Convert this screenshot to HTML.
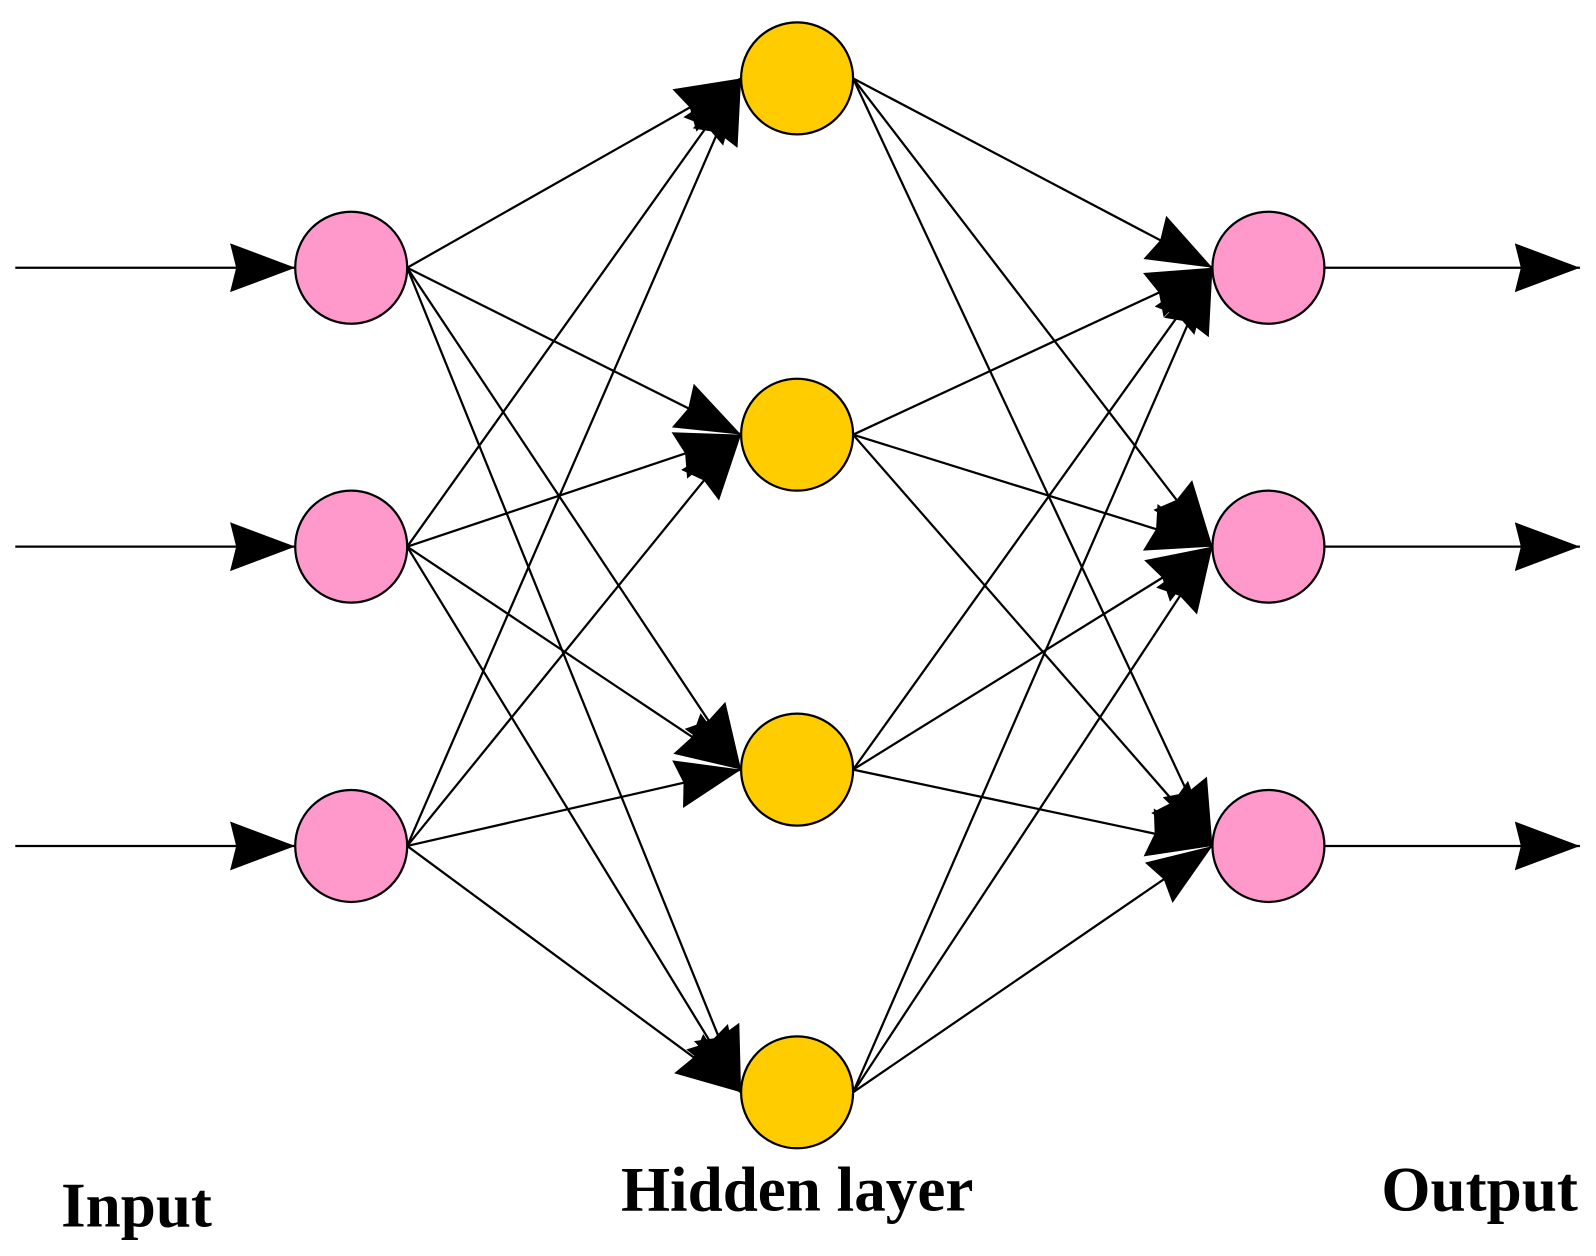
<!DOCTYPE html>
<html><head><meta charset="utf-8"><style>
html,body{margin:0;padding:0;background:#fff;}
svg{display:block}
</style></head><body>
<svg width="1596" height="1256" viewBox="0 0 1596 1256" xmlns="http://www.w3.org/2000/svg">
<defs>
<marker id="a" markerUnits="userSpaceOnUse" markerWidth="70" markerHeight="54" refX="64" refY="24" orient="auto">
<polygon points="0,0 64,24 0,48 6,24" fill="#000"/>
</marker>
</defs>
<g transform="scale(1.018)">
<g stroke="#000" stroke-width="2.2" fill="none" marker-end="url(#a)">
<line x1="15" y1="263" x2="290" y2="263"/>
<line x1="15" y1="537" x2="290" y2="537"/>
<line x1="15" y1="831" x2="290" y2="831"/>
<line x1="1301" y1="263" x2="1552" y2="263"/>
<line x1="1301" y1="537" x2="1552" y2="537"/>
<line x1="1301" y1="831" x2="1552" y2="831"/>
<line x1="400" y1="263" x2="728" y2="77"/>
<line x1="400" y1="263" x2="728" y2="427"/>
<line x1="400" y1="263" x2="728" y2="756"/>
<line x1="400" y1="263" x2="728" y2="1073"/>
<line x1="400" y1="537" x2="728" y2="77"/>
<line x1="400" y1="537" x2="728" y2="427"/>
<line x1="400" y1="537" x2="728" y2="756"/>
<line x1="400" y1="537" x2="728" y2="1073"/>
<line x1="400" y1="831" x2="728" y2="77"/>
<line x1="400" y1="831" x2="728" y2="427"/>
<line x1="400" y1="831" x2="728" y2="756"/>
<line x1="400" y1="831" x2="728" y2="1073"/>
<line x1="838" y1="77" x2="1191" y2="263"/>
<line x1="838" y1="77" x2="1191" y2="537"/>
<line x1="838" y1="77" x2="1191" y2="831"/>
<line x1="838" y1="427" x2="1191" y2="263"/>
<line x1="838" y1="427" x2="1191" y2="537"/>
<line x1="838" y1="427" x2="1191" y2="831"/>
<line x1="838" y1="756" x2="1191" y2="263"/>
<line x1="838" y1="756" x2="1191" y2="537"/>
<line x1="838" y1="756" x2="1191" y2="831"/>
<line x1="838" y1="1073" x2="1191" y2="263"/>
<line x1="838" y1="1073" x2="1191" y2="537"/>
<line x1="838" y1="1073" x2="1191" y2="831"/>
</g>
<g stroke="#000" stroke-width="2.2">
<circle cx="345" cy="263" r="55" fill="#FF99CC"/>
<circle cx="345" cy="537" r="55" fill="#FF99CC"/>
<circle cx="345" cy="831" r="55" fill="#FF99CC"/>
<circle cx="783" cy="77" r="55" fill="#FFCC00"/>
<circle cx="783" cy="427" r="55" fill="#FFCC00"/>
<circle cx="783" cy="756" r="55" fill="#FFCC00"/>
<circle cx="783" cy="1073" r="55" fill="#FFCC00"/>
<circle cx="1246" cy="263" r="55" fill="#FF99CC"/>
<circle cx="1246" cy="537" r="55" fill="#FF99CC"/>
<circle cx="1246" cy="831" r="55" fill="#FF99CC"/>
</g>
<g font-family="Liberation Serif, serif" font-weight="bold" font-size="62" fill="#000">
<text x="60" y="1205">Input</text>
<text x="610" y="1189">Hidden layer</text>
<text x="1357" y="1189">Output</text>
</g>
</g>
</svg>
</body></html>
